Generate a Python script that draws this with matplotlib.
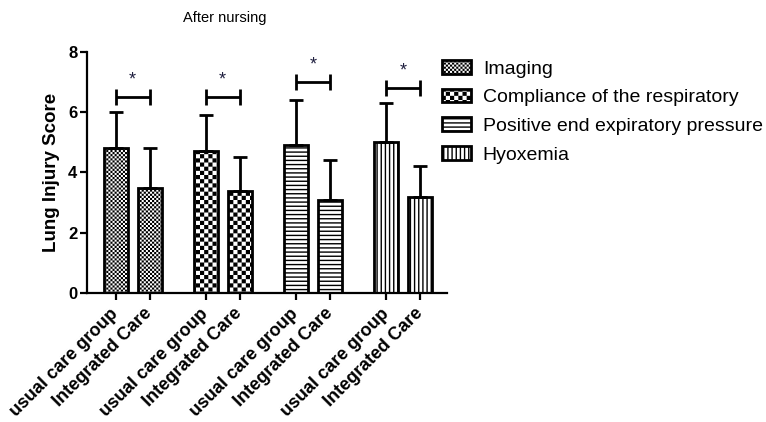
import numpy as np
import matplotlib
matplotlib.use("Agg")
import matplotlib.pyplot as plt
import matplotlib.hatch as mhatch
from matplotlib.path import Path

plt.rcParams['font.family'] = ['Liberation Sans', 'DejaVu Sans']

# scores after nursing, mean and upper SD for each indicator
indicators = ['Imaging', 'Compliance of the respiratory',
              'Positive end expiratory pressure', 'Hyoxemia']
groups = ['usual care group', 'Integrated Care']
usual_mean = [4.8, 4.7, 4.9, 5.0]
usual_sd = [1.2, 1.2, 1.5, 1.3]
integ_mean = [3.5, 3.4, 3.1, 3.2]
integ_sd = [1.3, 1.1, 1.3, 1.0]
bracket_y = [6.5, 6.5, 7.0, 6.8]
sig_marks = ['*', '*', '*', '*']


# checkerboard hatch, triggered by 'O' (replaces the big-circle hatch)
class CheckerHatch(mhatch.HatchPatternBase):
    def __init__(self, hatch, density):
        self.n = 24 * hatch.count('O')
        self.num_vertices = 5 * (self.n * self.n // 2)

    def set_vertices_and_codes(self, vertices, codes):
        n = self.n
        step = 1.0 / n
        pad = 0.0069
        sq = np.array([[0, 0], [1, 0], [1, 1], [0, 1], [0, 0]]) * (step - 2 * pad) + pad
        parts = [sq + [i * step, j * step]
                 for i in range(n) for j in range(n) if (i + j) % 2 == 0]
        vertices[:] = np.concatenate(parts)
        codes[:] = np.tile([Path.MOVETO, Path.LINETO, Path.LINETO,
                            Path.LINETO, Path.CLOSEPOLY], len(parts))


mhatch._hatch_types = [t for t in mhatch._hatch_types
                       if t is not mhatch.LargeCircles] + [CheckerHatch]

hatches = ['OO', 'O', '----', '||||']

fig = plt.figure(figsize=(7.66, 4.22), dpi=100)
ax = fig.add_axes([0.1136, 0.3057, 0.47, 0.5711])

off = 0.377
width = 0.266
lw = 2.0
xticks = []
xlabels = []
for i in range(4):
    xs = [i, i + off]
    ax.bar(xs, [usual_mean[i], integ_mean[i]], width=width, color='white',
           edgecolor='black', linewidth=lw, hatch=hatches[i], label=indicators[i],
           yerr=[[0, 0], [usual_sd[i], integ_sd[i]]],
           error_kw=dict(ecolor='black', elinewidth=lw, capsize=5, capthick=lw),
           zorder=2)
    # significance bracket
    by = bracket_y[i]
    ax.plot([xs[0], xs[1]], [by, by], color='black', lw=lw, solid_capstyle='butt')
    for x in xs:
        ax.plot([x, x], [by - 0.27, by + 0.27], color='black', lw=lw,
                solid_capstyle='butt')
    ax.text((xs[0] + xs[1]) / 2, by + 0.58, sig_marks[i], ha='center', va='center',
            fontsize=13, color='#202040')
    xticks += xs
    xlabels += groups

ax.set_xlim(-0.316, 3.675)
ax.set_ylim(0, 8)
ax.set_yticks([0, 2, 4, 6, 8])
ax.set_xticks(xticks)
ax.set_xticklabels(xlabels, rotation=45, ha='right', va='center',
                   rotation_mode='anchor', fontsize=13, fontweight='bold')
for lab in ax.get_yticklabels():
    lab.set_fontweight('bold')
ax.tick_params(axis='y', labelsize=12, width=1.6, length=5, pad=2)
ax.tick_params(axis='x', width=1.6, length=5, pad=8)
ax.spines['top'].set_visible(False)
ax.spines['right'].set_visible(False)
ax.spines['left'].set_linewidth(1.6)
ax.spines['bottom'].set_linewidth(1.6)
ax.set_ylabel('Lung Injury Score', fontsize=13.5, fontweight='bold', labelpad=6)

fig.text(225 / 766, 1 - 18 / 422, 'After nursing', ha='center', va='center',
         fontsize=10.5)

ax.legend(loc='upper left', bbox_to_anchor=(442 / 766, 1 - 60 / 422),
          bbox_transform=fig.transFigure, frameon=False, fontsize=14,
          handlelength=1.5, handleheight=0.72, handletextpad=0.6,
          labelspacing=0.56, borderpad=0, borderaxespad=0)

fig.savefig('out.png', dpi=100)
